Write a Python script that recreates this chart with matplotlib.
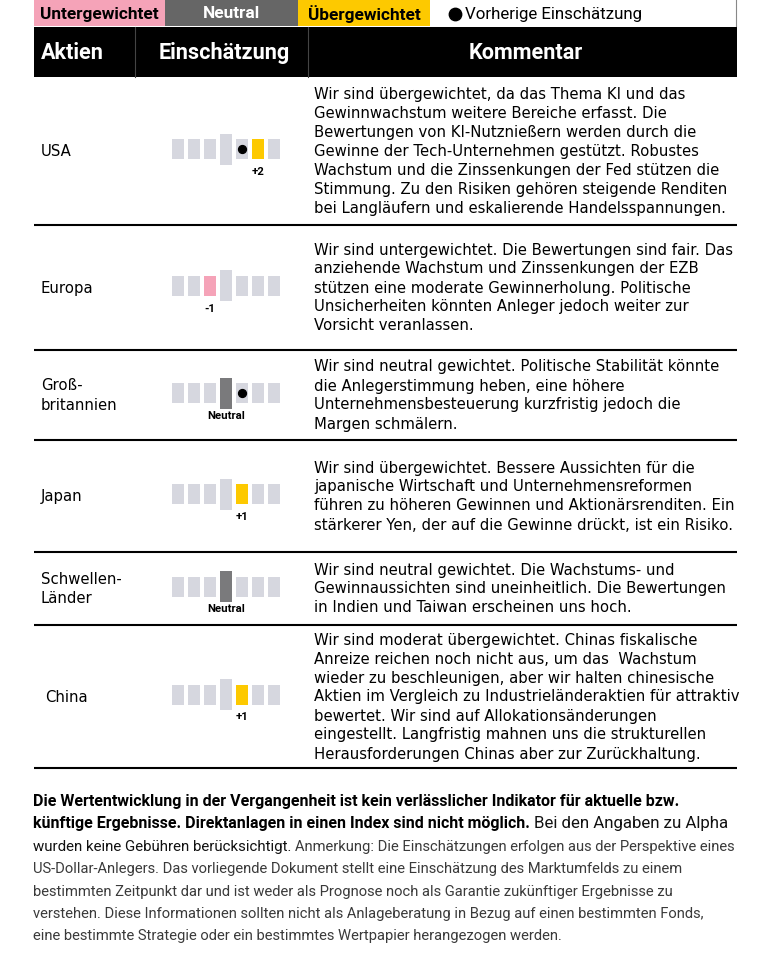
import matplotlib.pyplot as plt
from matplotlib.patches import Rectangle

W, H = 757, 960

# --- data -------------------------------------------------------------
countries = ["USA", "Europa", "Groß-\nbritannien", "Japan", "Schwellen-\nLänder", "China"]
ratings = [2, -1, 0, 1, 0, 1]
previous = [1, None, 1, None, None, None]
rating_labels = ["+2", "-1", "Neutral", "+1", "Neutral", "+1"]

comments = [
    "Wir sind übergewichtet, da das Thema KI und das\n"
    "Gewinnwachstum weitere Bereiche erfasst. Die\n"
    "Bewertungen von KI-Nutznießern werden durch die\n"
    "Gewinne der Tech-Unternehmen gestützt. Robustes\n"
    "Wachstum und die Zinssenkungen der Fed stützen die\n"
    "Stimmung. Zu den Risiken gehören steigende Renditen\n"
    "bei Langläufern und eskalierende Handelsspannungen.",
    "Wir sind untergewichtet. Die Bewertungen sind fair. Das\n"
    "anziehende Wachstum und Zinssenkungen der EZB\n"
    "stützen eine moderate Gewinnerholung. Politische\n"
    "Unsicherheiten könnten Anleger jedoch weiter zur\n"
    "Vorsicht veranlassen.",
    "Wir sind neutral gewichtet. Politische Stabilität könnte\n"
    "die Anlegerstimmung heben, eine höhere\n"
    "Unternehmensbesteuerung kurzfristig jedoch die\n"
    "Margen schmälern.",
    "Wir sind übergewichtet. Bessere Aussichten für die\n"
    "japanische Wirtschaft und Unternehmensreformen\n"
    "führen zu höheren Gewinnen und Aktionärsrenditen. Ein\n"
    "stärkerer Yen, der auf die Gewinne drückt, ist ein Risiko.",
    "Wir sind neutral gewichtet. Die Wachstums- und\n"
    "Gewinnaussichten sind uneinheitlich. Die Bewertungen\n"
    "in Indien und Taiwan erscheinen uns hoch.",
    "Wir sind moderat übergewichtet. Chinas fiskalische\n"
    "Anreize reichen noch nicht aus, um das  Wachstum\n"
    "wieder zu beschleunigen, aber wir halten chinesische\n"
    "Aktien im Vergleich zu Industrieländeraktien für attraktiv\n"
    "bewertet. Wir sind auf Allokationsänderungen\n"
    "eingestellt. Langfristig mahnen uns die strukturellen\n"
    "Herausforderungen Chinas aber zur Zurückhaltung.",
]

legend_labels = ["Untergewichtet", "Neutral", "Übergewichtet"]
prev_label = "Vorherige Einschätzung"
headers = ["Aktien", "Einschätzung", "Kommentar"]

footer_lines = [
    [("Die Wertentwicklung in der Vergangenheit ist kein verlässlicher Indikator für aktuelle bzw.", "bold")],
    [("künftige Ergebnisse. Direktanlagen in einen Index sind nicht möglich.", "bold"),
     ("Bei den Angaben zu Alpha", "regular")],
    [("wurden keine Gebühren berücksichtigt.", "tight"),
     ("Anmerkung: Die Einschätzungen erfolgen aus der Perspektive eines", "light")],
    [("US-Dollar-Anlegers. Das vorliegende Dokument stellt eine Einschätzung des Marktumfelds zu einem", "light")],
    [("bestimmten Zeitpunkt dar und ist weder als Prognose noch als Garantie zukünftiger Ergebnisse zu", "light")],
    [("verstehen. Diese Informationen sollten nicht als Anlageberatung in Bezug auf einen bestimmten Fonds,", "light")],
    [("eine bestimmte Strategie oder ein bestimmtes Wertpapier herangezogen werden.", "light")],
]

# --- styling ----------------------------------------------------------
PINK = "#f5a3b8"
GREY = "#666666"
NEUTRAL_CELL = "#7a7a7c"
YELLOW = "#fdc900"
LIGHT = "#d6d7df"

body_font = "DejaVu Sans"
head_font = "Roboto"
foot_font = "Roboto"

left, right = 34, 737
col1, col2 = 135, 308
row_edges = [77, 225, 350, 440, 552, 625, 768]

fig = plt.figure(figsize=(W / 100, H / 100), dpi=100)
ax = fig.add_axes([0, 0, 1, 1])
ax.set_xlim(0, W)
ax.set_ylim(H, 0)
ax.axis("off")

# legend row
legend_boxes = [(34, 165, PINK, "black"), (165, 298, GREY, "white"), (298, 430, YELLOW, "black")]
for (x0, x1, fc, tc), lab in zip(legend_boxes, legend_labels):
    ax.add_patch(Rectangle((x0, 0), x1 - x0, 26, facecolor=fc, edgecolor="none"))
    ax.text((x0 + x1) / 2, 14, lab, ha="center", va="center", color=tc,
            fontsize=12.4, fontweight="bold", family=head_font)
ax.scatter([455], [14], s=80, color="black", zorder=3)
ax.text(465, 14, prev_label, ha="left", va="center", fontsize=12.2, family=head_font)
ax.plot([736, 736], [0, 26], color="#888888", lw=0.8)

# header band
ax.add_patch(Rectangle((left, 27), right - left, 50, facecolor="black", edgecolor="none"))
for xc in (col1, col2):
    ax.plot([xc, xc], [27, 77], color="#444444", lw=0.8)
ax.text(41, 53, headers[0], ha="left", va="center", color="white",
        fontsize=15.6, fontweight="bold", family=head_font)
ax.text(224, 53, headers[1], ha="center", va="center", color="white",
        fontsize=15.6, fontweight="bold", family=head_font)
ax.text(526, 53, headers[2], ha="center", va="center", color="white",
        fontsize=15.6, fontweight="bold", family=head_font)

# rows
pitch = 19.0
cell_pitch = 16
cx0 = 226
for i, country in enumerate(countries):
    top, bot = row_edges[i], row_edges[i + 1]
    yc = (top + bot) / 2

    # country label
    lines = country.split("\n")
    xl = 45 if country == "China" else 41
    for j, ln in enumerate(lines):
        yy = yc + (j - (len(lines) - 1) / 2) * pitch
        ax.text(xl, yy + 5, ln, ha="left", va="baseline", fontsize=10.7, family=body_font)

    # indicator cells
    yb = yc - 2
    for k in range(-3, 4):
        xk = cx0 + k * cell_pitch
        h = 31 if k == 0 else 20
        fc = LIGHT
        if k == ratings[i]:
            fc = YELLOW if k > 0 else (PINK if k < 0 else NEUTRAL_CELL)
        ax.add_patch(Rectangle((xk - 6, yb - h / 2), 12, h, facecolor=fc, edgecolor="none"))
    if previous[i] is not None:
        ax.scatter([cx0 + previous[i] * cell_pitch], [yb], s=32, color="black", zorder=4)
    ax.text(cx0 + ratings[i] * cell_pitch, yb + 23, rating_labels[i], ha="center", va="center",
            fontsize=8.2, fontweight="bold", family=head_font)

    # comment
    clines = comments[i].split("\n")
    for j, ln in enumerate(clines):
        yy = yc + (j - (len(clines) - 1) / 2) * pitch
        ax.text(314, yy + 5, ln, ha="left", va="baseline", fontsize=10.7, family=body_font)

    # separator
    ax.plot([left, right], [bot, bot], color="black", lw=1.5, solid_capstyle="butt")

# footer with mixed weights
styles = {
    "bold": dict(fontweight="bold", color="black", fontsize=11.5),
    "regular": dict(fontweight="normal", color="#111111", fontsize=12.2),
    "tight": dict(fontweight="normal", color="#111111", fontsize=10.8),
    "light": dict(fontweight="normal", color="#3a3a3a", fontsize=10.6),
}
fig.canvas.draw()
renderer = fig.canvas.get_renderer()
inv = ax.transData.inverted()
for j, segs in enumerate(footer_lines):
    y = 806 + j * 22.4
    x = 33
    for txt, st in segs:
        t = ax.text(x, y, txt, ha="left", va="baseline", family=foot_font, **styles[st])
        bb = t.get_window_extent(renderer=renderer)
        x = inv.transform((bb.x1, bb.y0))[0] + 4

fig.savefig("out.png", dpi=100)
